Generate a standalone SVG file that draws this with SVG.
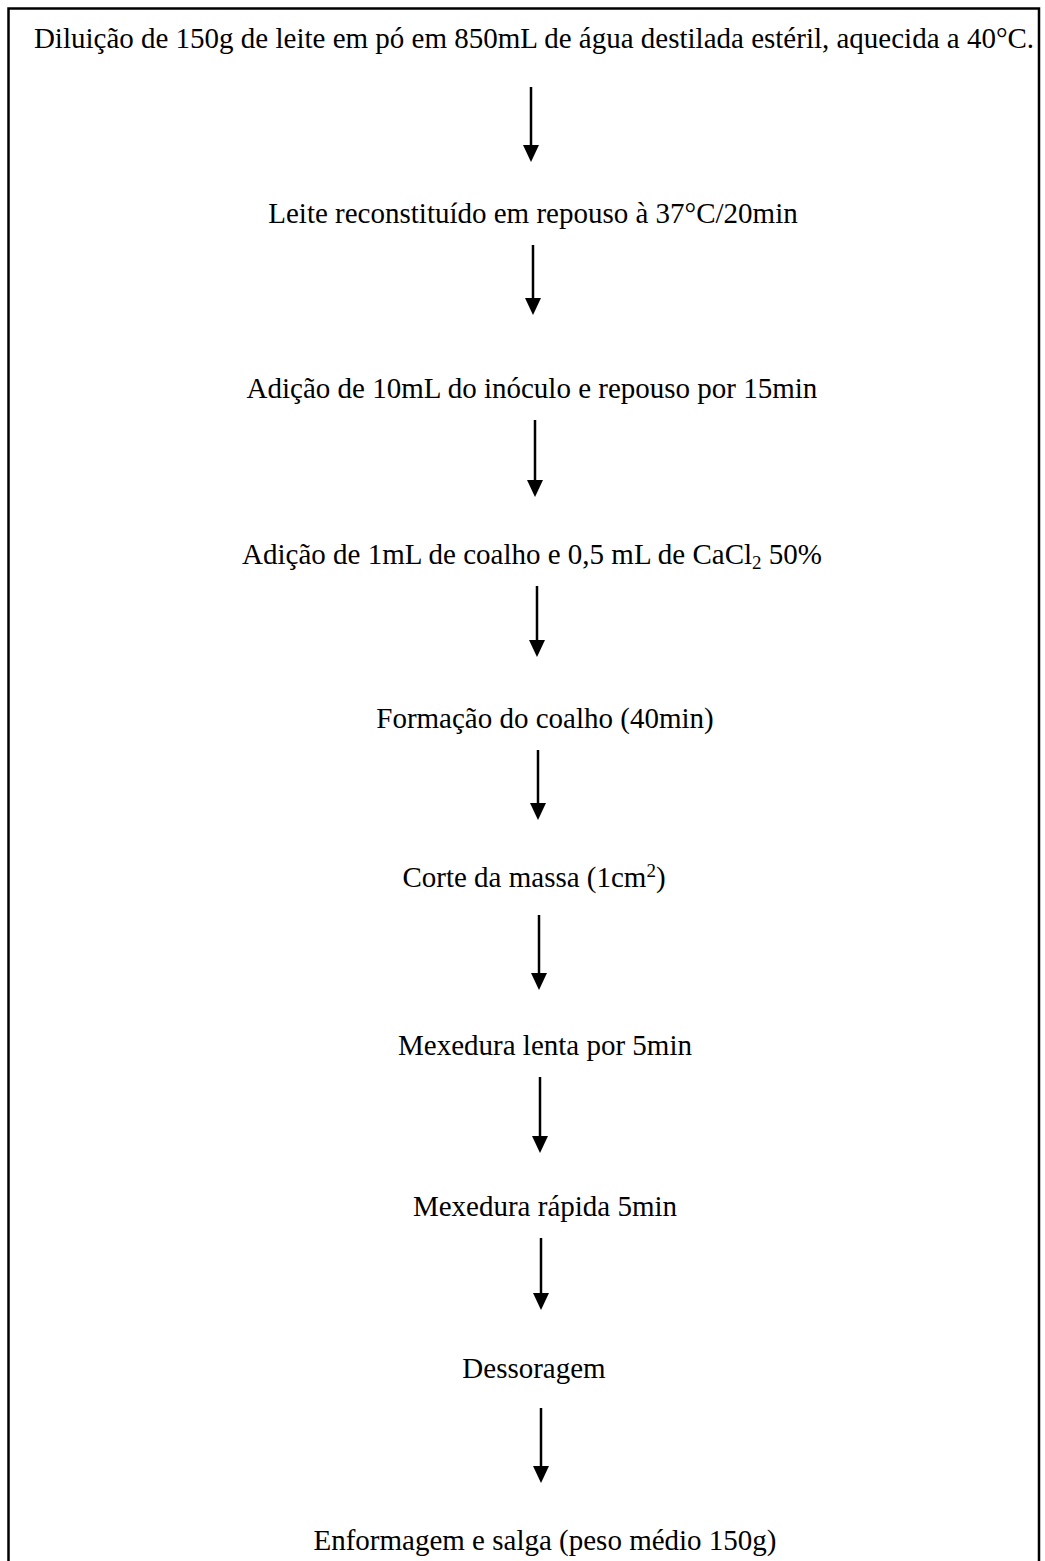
<svg xmlns="http://www.w3.org/2000/svg" width="1045" height="1561" viewBox="0 0 1045 1561">
<style>
.t{font-family:"Liberation Serif","Times New Roman",serif;font-size:29px;fill:#000;text-anchor:middle}
.c line{stroke:#000;stroke-width:2.5}
.c path{fill:#000}
</style>
<rect x="0" y="0" width="1045" height="1561" fill="#fff"/>
<path d="M8.5 1561 V8.5 H1039 V1561" fill="none" stroke="#000" stroke-width="2.5"/>
<g id="n1"><text class="t" x="534" y="48">Diluição de 150g de leite em pó em 850mL de água destilada estéril, aquecida a 40°C.</text></g>
<g id="n2"><text class="t" x="533" y="223">Leite reconstituído em repouso à 37°C/20min</text></g>
<g id="n3"><text class="t" x="532" y="398">Adição de 10mL do inóculo e repouso por 15min</text></g>
<g id="n4"><text class="t" x="532" y="564">Adição de 1mL de coalho e 0,5 mL de CaCl<tspan font-size="19" dy="5">2</tspan><tspan dy="-5"> 50%</tspan></text></g>
<g id="n5"><text class="t" x="545" y="728">Formação do coalho (40min)</text></g>
<g id="n6"><text class="t" x="534" y="887">Corte da massa (1cm<tspan font-size="19" dy="-10">2</tspan><tspan dy="10">)</tspan></text></g>
<g id="n7"><text class="t" x="545" y="1055">Mexedura lenta por 5min</text></g>
<g id="n8"><text class="t" x="545" y="1216">Mexedura rápida 5min</text></g>
<g id="n9"><text class="t" x="534" y="1378">Dessoragem</text></g>
<g id="n10"><text class="t" x="545" y="1550">Enformagem e salga (peso médio 150g)</text></g>
<g id="connectors" class="c">
<line x1="531" y1="87" x2="531" y2="148"/><path d="M523 145 H539 L531 162 Z"/>
<line x1="533" y1="245" x2="533" y2="301"/><path d="M525 298 H541 L533 315 Z"/>
<line x1="535" y1="420" x2="535" y2="483"/><path d="M527 480 H543 L535 497 Z"/>
<line x1="537" y1="586" x2="537" y2="643"/><path d="M529 640 H545 L537 657 Z"/>
<line x1="538" y1="750" x2="538" y2="806"/><path d="M530 803 H546 L538 820 Z"/>
<line x1="539" y1="915" x2="539" y2="976"/><path d="M531 973 H547 L539 990 Z"/>
<line x1="540" y1="1077" x2="540" y2="1139"/><path d="M532 1136 H548 L540 1153 Z"/>
<line x1="541" y1="1238" x2="541" y2="1296"/><path d="M533 1293 H549 L541 1310 Z"/>
<line x1="541" y1="1408" x2="541" y2="1469"/><path d="M533 1466 H549 L541 1483 Z"/>
</g>
</svg>
